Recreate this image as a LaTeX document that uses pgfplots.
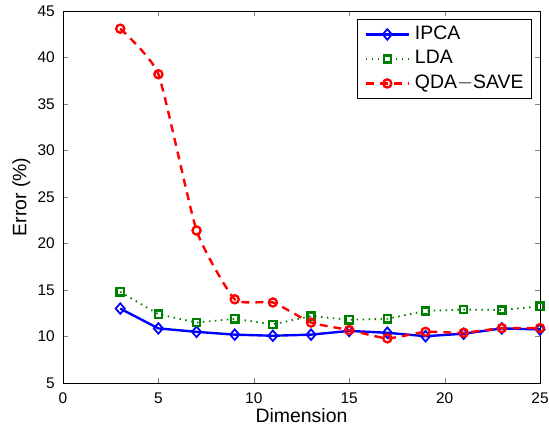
\documentclass[border=0pt]{standalone}
\usepackage{pgfplots}
\pgfplotsset{compat=1.18}
\usepackage{fontspec}
\setmainfont{Liberation Sans}
\definecolor{mblue}{RGB}{0,0,255}
\definecolor{mgreen}{RGB}{0,128,0}
\definecolor{mred}{RGB}{255,0,0}
\begin{document}
\begin{tikzpicture}
\begin{axis}[name=ax,
  scale only axis, width=477bp, height=372bp,
  xmin=0, xmax=25, ymin=5, ymax=45,
  xtick={0,5,...,25}, ytick={5,10,...,45},
  tick align=inside, major tick length=5bp,
  ticklabel style={font=\fontsize{15.5}{17}\selectfont},
  xticklabel style={inner sep=0pt, yshift=-10bp},
  yticklabel style={inner sep=0pt, xshift=-8bp},
  /pgf/number format/assume math mode=true,
  xlabel={Dimension}, ylabel={Error (\%)},
  label style={font=\fontsize{19.5}{22}\selectfont},
  xlabel style={inner sep=0pt, yshift=-4bp}, ylabel style={inner sep=0pt, yshift=7bp},
  axis line style={line width=0.9pt},
  legend style={at={(1,1)}, xshift=-8bp, yshift=-8bp, anchor=north east, font=\fontsize{19.5}{22}\selectfont,
    draw=black, line width=0.9pt, inner xsep=7bp, inner ysep=5bp, row sep=4.5bp,
    nodes={inner sep=1bp, text height=14bp, text depth=4bp}, column sep=4bp, cells={anchor=west}},
  legend image code/.code={\draw[#1] (0bp,0bp) -- (43bp,0bp); \draw[#1,solid] plot coordinates {(21.5bp,0bp)};},
]
\addplot[mblue, line width=2.4pt, mark=diamond, mark size=5.3pt, mark options={solid, line width=1.8pt, xscale=1.15}]
 coordinates {(3,13.0)(5,10.87)(7,10.5)(9,10.2)(11,10.08)(13,10.2)(15,10.6)(17,10.4)(19,10.03)(21,10.3)(23,10.87)(25,10.76)};
\addlegendentry{IPCA}
\addplot[mgreen, line width=1.8pt, dash pattern=on 1.5pt off 4.5pt, mark=square, mark size=3.6pt, mark options={solid, line width=2.4pt}]
 coordinates {(3,14.8)(5,12.4)(7,11.5)(9,11.9)(11,11.3)(13,12.2)(15,11.8)(17,11.9)(19,12.75)(21,12.9)(23,12.85)(25,13.25)};
\addlegendentry{LDA}
\addplot[mred, line width=2.4pt, dash pattern=on 8pt off 6pt, mark=o, mark size=4.1pt, mark options={solid, line width=2.3pt}, smooth, tension=0.3]
 coordinates {(3,43.1)(5,38.2)(7,21.4)(9,14.0)(11,13.66)(13,11.5)(15,10.7)(17,9.8)(19,10.5)(21,10.4)(23,10.9)(25,10.9)};
\addlegendentry{QDA$-$SAVE}
\end{axis}
\path ([xshift=-63bp,yshift=-44bp]ax.south west) rectangle ([xshift=9bp,yshift=11bp]ax.north east);
\end{tikzpicture}
\end{document}
